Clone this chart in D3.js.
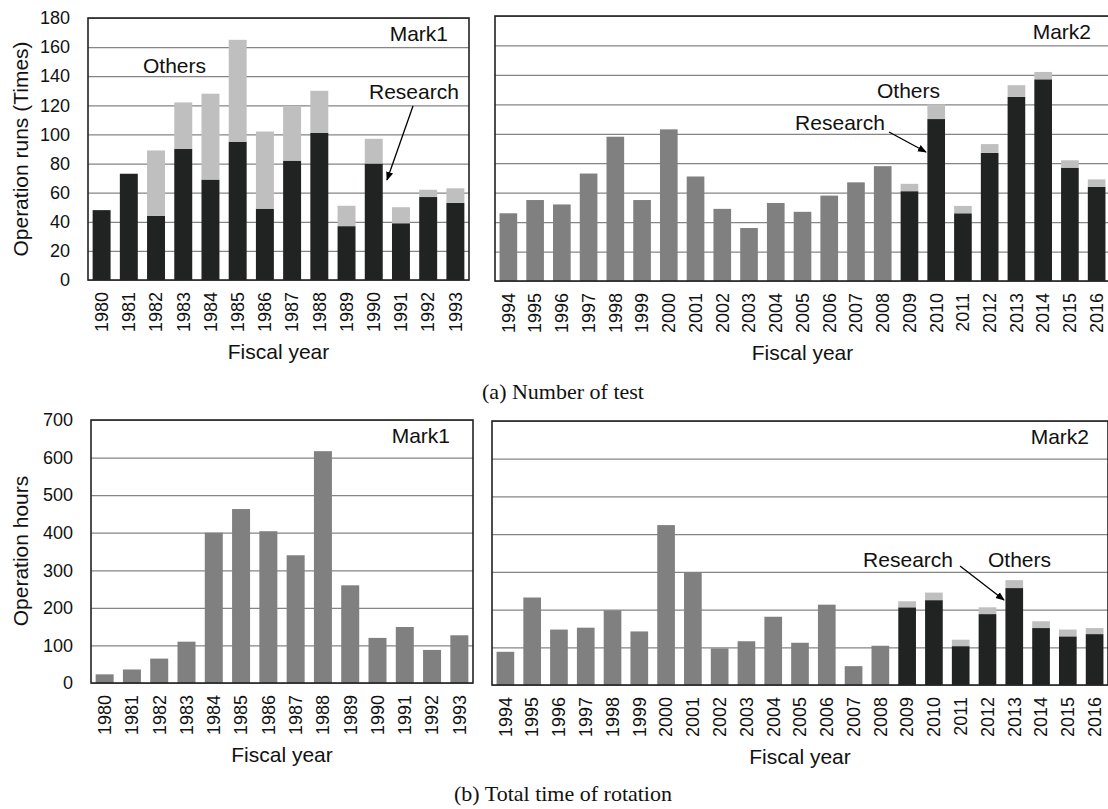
<!DOCTYPE html>
<html>
<head>
<meta charset="utf-8">
<script src="https://cdn.jsdelivr.net/npm/d3@7"></script>
<style>
  html, body { margin: 0; padding: 0; background: #fff; }
  svg { display: block; }
  text { font-family: "Liberation Sans", Arial, sans-serif; fill: #111; }
  .cap { font-family: "Liberation Serif", "Times New Roman", serif; }
</style>
</head>
<body>
<svg id="chart" width="1108" height="809"></svg>
<script>
// ---------- DATA ----------
const yearsMark1 = ["1980","1981","1982","1983","1984","1985","1986","1987","1988","1989","1990","1991","1992","1993"];
const yearsMark2 = ["1994","1995","1996","1997","1998","1999","2000","2001","2002","2003","2004","2005","2006","2007","2008","2009","2010","2011","2012","2013","2014","2015","2016"];

// (a) Number of test — Mark1
const runsMark1Research = [48, 73, 44, 90, 69, 95, 49, 82, 101, 37, 80, 39, 57, 53];
const runsMark1Others   = [0, 0, 45, 32, 59, 70, 53, 37, 29, 14, 17, 11, 5, 10];
// (a) Number of test — Mark2 (unclassified up to 2008, split from 2009)
const runsMark2Total    = [46, 55, 52, 73, 98, 55, 103, 71, 49, 36, 53, 47, 58, 67, 78, null, null, null, null, null, null, null, null];
const runsMark2Research = [null, null, null, null, null, null, null, null, null, null, null, null, null, null, null, 61, 110, 46, 87, 125, 137, 77, 64];
const runsMark2Others   = [null, null, null, null, null, null, null, null, null, null, null, null, null, null, null, 5, 10, 5, 6, 8, 5, 5, 5];

// (b) Total time of rotation — Mark1
const hoursMark1Total   = [23, 36, 65, 110, 400, 463, 404, 340, 617, 260, 120, 149, 88, 127];
// (b) Total time of rotation — Mark2
const hoursMark2Total    = [88, 232, 147, 152, 198, 142, 424, 298, 97, 116, 181, 112, 213, 50, 104, null, null, null, null, null, null, null, null];
const hoursMark2Research = [null, null, null, null, null, null, null, null, null, null, null, null, null, null, null, 206, 225, 103, 188, 257, 151, 129, 135];
const hoursMark2Others   = [null, null, null, null, null, null, null, null, null, null, null, null, null, null, null, 16, 20, 17, 18, 21, 18, 18, 16];

const runsTicks  = [0, 20, 40, 60, 80, 100, 120, 140, 160, 180];
const hoursTicks = [0, 100, 200, 300, 400, 500, 600, 700];

// ---------- STYLE ----------
const C_RESEARCH = "#212322";
const C_OTHERS = "#bfbfbf";
const C_TOTAL = "#808080";
const C_GRID = "#858585";

const svg = d3.select("#chart");

const defs = svg.append("defs");
defs.append("marker").attr("id", "arr").attr("viewBox", "0 0 10 10")
  .attr("refX", 9).attr("refY", 5).attr("markerWidth", 9).attr("markerHeight", 9)
  .attr("orient", "auto").attr("markerUnits", "userSpaceOnUse")
  .append("path").attr("d", "M0,1 L10,5 L0,9 Z").attr("fill", "#000");

function panel(cfg) {
  const g = svg.append("g");
  const x = d3.scaleBand().domain(cfg.years).range([cfg.x0, cfg.x1])
    .paddingInner(0.34).paddingOuter(0.17);
  const y = d3.scaleLinear().domain([0, cfg.ticks[cfg.ticks.length - 1]]).range([cfg.y1, cfg.y0]);

  // grid
  const gg = g.append("g").attr("transform", `translate(${cfg.x0},0)`)
    .call(d3.axisLeft(y).tickValues(cfg.ticks).tickSize(-(cfg.x1 - cfg.x0)).tickFormat(cfg.showY ? d3.format("d") : ""));
  gg.select(".domain").remove();
  gg.selectAll(".tick line").attr("stroke", C_GRID).attr("stroke-width", 1.2);
  gg.selectAll(".tick text").attr("x", -18).attr("font-size", 18)
    .attr("font-family", "'Liberation Sans', Arial, sans-serif").attr("fill", "#111");

  // bars
  const rows = cfg.years.map((yr, i) => ({yr, t: cfg.total ? cfg.total[i] : null,
    r: cfg.research ? cfg.research[i] : null, o: cfg.others ? cfg.others[i] : null}));
  const bw = x.bandwidth();
  rows.forEach(d => {
    if (d.t != null) {
      g.append("rect").attr("x", x(d.yr)).attr("width", bw)
        .attr("y", y(d.t)).attr("height", y(0) - y(d.t)).attr("fill", C_TOTAL);
    }
    if (d.r != null) {
      g.append("rect").attr("x", x(d.yr)).attr("width", bw)
        .attr("y", y(d.r)).attr("height", y(0) - y(d.r)).attr("fill", C_RESEARCH);
      if (d.o) {
        g.append("rect").attr("x", x(d.yr)).attr("width", bw)
          .attr("y", y(d.r + d.o)).attr("height", y(d.r) - y(d.r + d.o)).attr("fill", C_OTHERS);
      }
    }
  });

  // frame
  g.append("rect").attr("x", cfg.x0).attr("y", cfg.y0)
    .attr("width", cfg.x1 - cfg.x0).attr("height", cfg.y1 - cfg.y0)
    .attr("fill", "none").attr("stroke", "#222").attr("stroke-width", 1.6);

  // x tick labels
  const xa = g.append("g").attr("transform", `translate(0,${cfg.y1})`)
    .call(d3.axisBottom(x).tickSize(0));
  xa.select(".domain").remove();
  xa.selectAll(".tick text")
    .attr("font-size", 18).attr("font-family", "'Liberation Sans', Arial, sans-serif").attr("fill", "#111")
    .attr("transform", "rotate(-90)").attr("text-anchor", "end")
    .attr("x", -12).attr("y", 0).attr("dy", "0.35em");

  // x title
  g.append("text").attr("x", (cfg.x0 + cfg.x1) / 2).attr("y", cfg.y1 + 79)
    .attr("text-anchor", "middle").attr("font-size", 21).text("Fiscal year");

  // mark label
  g.append("text").attr("x", cfg.markX).attr("y", cfg.y0 + 23)
    .attr("text-anchor", "end").attr("font-size", 21).text(cfg.mark);
  return {x, y, g};
}

panel({years: yearsMark1, x0: 88, x1: 469, y0: 18, y1: 280, ticks: runsTicks, showY: true,
  research: runsMark1Research, others: runsMark1Others, mark: "Mark1", markX: 448});
panel({years: yearsMark2, x0: 495, x1: 1110, y0: 16, y1: 281, ticks: runsTicks, showY: false,
  total: runsMark2Total, research: runsMark2Research, others: runsMark2Others, mark: "Mark2", markX: 1091});
panel({years: yearsMark1, x0: 91, x1: 473, y0: 420, y1: 683, ticks: hoursTicks, showY: true,
  total: hoursMark1Total, mark: "Mark1", markX: 450});
panel({years: yearsMark2, x0: 492, x1: 1108, y0: 421, y1: 685, ticks: hoursTicks, showY: false,
  total: hoursMark2Total, research: hoursMark2Research, others: hoursMark2Others, mark: "Mark2", markX: 1089});

// y-axis titles
svg.append("text").attr("transform", "translate(28,149) rotate(-90)")
  .attr("text-anchor", "middle").attr("font-size", 21).text("Operation runs (Times)");
svg.append("text").attr("transform", "translate(28,551) rotate(-90)")
  .attr("text-anchor", "middle").attr("font-size", 21).text("Operation hours");

// captions
svg.append("text").attr("class", "cap").attr("x", 563).attr("y", 399)
  .attr("text-anchor", "middle").attr("font-size", 22).text("(a) Number of test");
svg.append("text").attr("class", "cap").attr("x", 563).attr("y", 801)
  .attr("text-anchor", "middle").attr("font-size", 22).text("(b) Total time of rotation");

// annotations
function note(x, y, s, anchor) {
  svg.append("text").attr("x", x).attr("y", y).attr("font-size", 21)
    .attr("text-anchor", anchor || "start").text(s);
}
function arrow(x1, y1, x2, y2) {
  svg.append("line").attr("x1", x1).attr("y1", y1).attr("x2", x2).attr("y2", y2)
    .attr("stroke", "#000").attr("stroke-width", 1.3).attr("marker-end", "url(#arr)");
}
note(143, 73, "Others");
note(369, 99, "Research");
arrow(413, 106, 387, 180);

note(877, 98, "Others");
note(885, 130, "Research", "end");
arrow(889, 132, 926, 152);

note(953, 567, "Research", "end");
note(988, 567, "Others");
arrow(960, 566, 1004, 600);
</script>
</body>
</html>
